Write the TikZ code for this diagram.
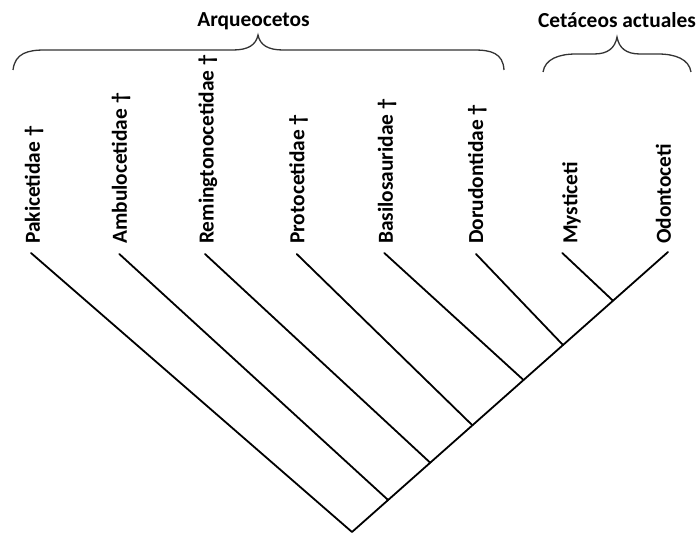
\documentclass[tikz,border=0pt]{standalone}
\usepackage{fontspec}
\setmainfont{Carlito}
\begin{document}
\begin{tikzpicture}[x=1pt,y=-1pt,
  branch/.style={line width=1.8pt, line cap=round, line join=round},
  bracecurve/.style={line width=1.3pt, draw=black!80},
  taxon/.style={rotate=90, anchor=base west, inner sep=0pt, font=\fontsize{21.4}{24}\selectfont\bfseries},
  grouplabel/.style={anchor=base, inner sep=0pt, font=\fontsize{21.4}{24}\selectfont\bfseries}]
\useasboundingbox (0,0) rectangle (699,534);
% leaf tips
\coordinate (tPak) at (31,253);
\coordinate (tAmb) at (119.3,254);
\coordinate (tRem) at (205,254);
\coordinate (tPro) at (296.7,254);
\coordinate (tBas) at (384.3,253);
\coordinate (tDor) at (476,254);
\coordinate (tMys) at (562.3,253);
\coordinate (tOdo) at (668,252);
% root and junctions
\coordinate (root) at (352,532);
\coordinate (j1) at (388.1,500);
\coordinate (j2) at (430.2,462.7);
\coordinate (j3) at (472.4,425.3);
\coordinate (j4) at (523.5,380);
\coordinate (j5) at (563,345);
\coordinate (j6) at (613,300.7);
% branches
\draw[branch] (tPak) -- (root) -- (tOdo);
\draw[branch] (tAmb) -- (j1);
\draw[branch] (tRem) -- (j2);
\draw[branch] (tPro) -- (j3);
\draw[branch] (tBas) -- (j4);
\draw[branch] (tDor) -- (j5);
\draw[branch] (tMys) -- (j6);
% taxon labels
\node[taxon] (lPak) at (39.8,244) {Pakicetidae †};
\node[taxon] (lAmb) at (126.8,244) {Ambulocetidae †};
\node[taxon] (lRem) at (213.5,244) {Remingtonocetidae †};
\node[taxon] (lPro) at (304.3,244) {Protocetidae †};
\node[taxon] (lBas) at (392.8,244) {Basilosauridae †};
\node[taxon] (lDor) at (483.1,244) {Dorudontidae †};
\node[taxon] (lMys) at (577.3,244) {Mysticeti};
\node[taxon] (lOdo) at (670.8,244) {Odontoceti};
% braces
\draw[bracecurve] (13,70) .. controls (15,53) and (28,50) .. (45,50) -- (233,50)
  .. controls (248,50) and (256,45) .. (258,35)
  .. controls (260,45) and (268,50) .. (283,50) -- (474,50)
  .. controls (491,50) and (503,53) .. (504,70);
\draw[bracecurve] (543,72) .. controls (545,59) and (559,54) .. (576,54) -- (594,54)
  .. controls (608,54) and (615,48) .. (617,37)
  .. controls (619,48) and (626,54) .. (640,54) -- (658,54)
  .. controls (675,54) and (689,59) .. (691,72);
% group labels
\node[grouplabel] (gArq) at (253.5,27) {Arqueocetos};
\node[grouplabel] (gCet) at (617,28) {Cetáceos actuales};
\end{tikzpicture}
\end{document}
